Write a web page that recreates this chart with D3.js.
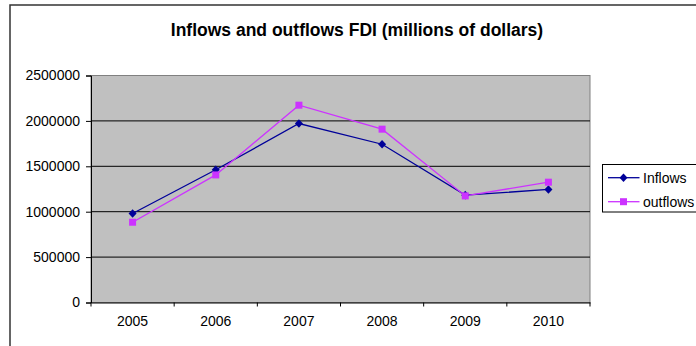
<!DOCTYPE html>
<html><head><meta charset="utf-8">
<script src="https://cdn.jsdelivr.net/npm/d3@7/dist/d3.min.js"></script>
<style>body{margin:0;background:#fff;}svg{display:block;font-family:"Liberation Sans",Arial,sans-serif;}</style>
</head><body>
<script>
const years = ["2005","2006","2007","2008","2009","2010"];
const inflows = [980000, 1462000, 1971000, 1743000, 1182000, 1245000];
const outflows = [884000, 1405000, 2173000, 1909000, 1174000, 1325000];
const yTicks = [0, 500000, 1000000, 1500000, 2000000, 2500000];
const seriesNames = ["Inflows", "outflows"];
const colors = ["#000099", "#cc33ff"];

const W = 696, H = 346;
const svg = d3.select("body").append("svg").attr("width", W).attr("height", H);

// outer chart border (extends beyond the image right/bottom)
svg.append("rect").attr("x", 10).attr("y", 5).attr("width", 700).attr("height", 360)
  .attr("fill", "#fff").attr("stroke", "#333").attr("stroke-width", 1.5);

const L = 91, R = 590, T = 75.5, B = 302.5;
const x = d3.scaleBand().domain(years).range([L, R]);
const y = d3.scaleLinear().domain([0, 2500000]).range([B, T]);

// plot area
svg.append("rect").attr("x", L).attr("y", T).attr("width", R - L).attr("height", B - T)
  .attr("fill", "#c0c0c0").attr("stroke", "#808080").attr("stroke-width", 1);

// gridlines
svg.append("g").selectAll("line").data(yTicks.filter(d => d > 0 && d < 2500000)).join("line")
  .attr("x1", L).attr("x2", R).attr("y1", d => y(d)).attr("y2", d => y(d))
  .attr("stroke", "#000").attr("stroke-width", 1);

// axes
const yAxis = svg.append("g").attr("transform", `translate(${L},0)`)
  .call(d3.axisLeft(y).tickValues(yTicks).tickSize(5).tickPadding(6).tickFormat(d3.format("d")));
const xAxis = svg.append("g").attr("transform", `translate(0,${B})`)
  .call(d3.axisBottom(x).tickSize(0).tickPadding(14));
// x ticks at band boundaries
const bounds = years.map(d => x(d)).concat([R]);
xAxis.selectAll(".bt").data(bounds).join("line").attr("class", "bt")
  .attr("x1", d => d).attr("x2", d => d).attr("y1", 0).attr("y2", 4).attr("stroke", "#000");
[yAxis, xAxis].forEach(a => {
  a.select(".domain").attr("stroke", "#000");
  a.selectAll("text").attr("font-size", 14).attr("fill", "#000")
    .attr("font-family", '"Liberation Sans",Arial,sans-serif');
  a.selectAll(".tick line").attr("stroke", "#000");
});

const cx = d => x(d) + x.bandwidth() / 2;
const line = d3.line().x((d, i) => cx(years[i])).y(d => y(d));
const data = [inflows, outflows];

data.forEach((vals, si) => {
  svg.append("path").datum(vals).attr("d", line).attr("fill", "none")
    .attr("stroke", colors[si]).attr("stroke-width", 1.3);
});
// markers: inflows diamonds (rotated squares), outflows squares
const diamond = "M0,-4.3L4,0L0,4.3L-4,0Z";
svg.append("g").selectAll("path").data(inflows).join("path")
  .attr("d", diamond)
  .attr("transform", (d, i) => `translate(${cx(years[i])},${y(d)})`).attr("fill", colors[0]);
svg.append("g").selectAll("rect").data(outflows).join("rect")
  .attr("x", (d, i) => cx(years[i]) - 3.5).attr("y", d => y(d) - 3.5)
  .attr("width", 7).attr("height", 7).attr("fill", colors[1]);

// title
svg.append("text").attr("x", 357).attr("y", 36).attr("text-anchor", "middle")
  .attr("font-size", 17.5).attr("font-weight", "bold").attr("fill", "#000")
  .text("Inflows and outflows FDI (millions of dollars)");

// legend
const lg = svg.append("g");
lg.append("rect").attr("x", 602.5).attr("y", 164.5).attr("width", 110).attr("height", 47.5)
  .attr("fill", "#fff").attr("stroke", "#000").attr("stroke-width", 1);
const ly = [177.7, 201.7];
seriesNames.forEach((n, i) => {
  lg.append("line").attr("x1", 608).attr("x2", 639.5).attr("y1", ly[i]).attr("y2", ly[i])
    .attr("stroke", colors[i]).attr("stroke-width", 1.3);
  if (i === 0) {
    lg.append("path").attr("d", diamond)
      .attr("transform", `translate(623.5,${ly[i]})`).attr("fill", colors[i]);
  } else {
    lg.append("rect").attr("x", 620).attr("y", ly[i] - 3.5).attr("width", 7).attr("height", 7).attr("fill", colors[i]);
  }
  lg.append("text").attr("x", 643).attr("y", ly[i]).attr("dy", "0.36em")
    .attr("font-size", 14).attr("fill", "#000").text(n);
});
</script>
</body></html>
